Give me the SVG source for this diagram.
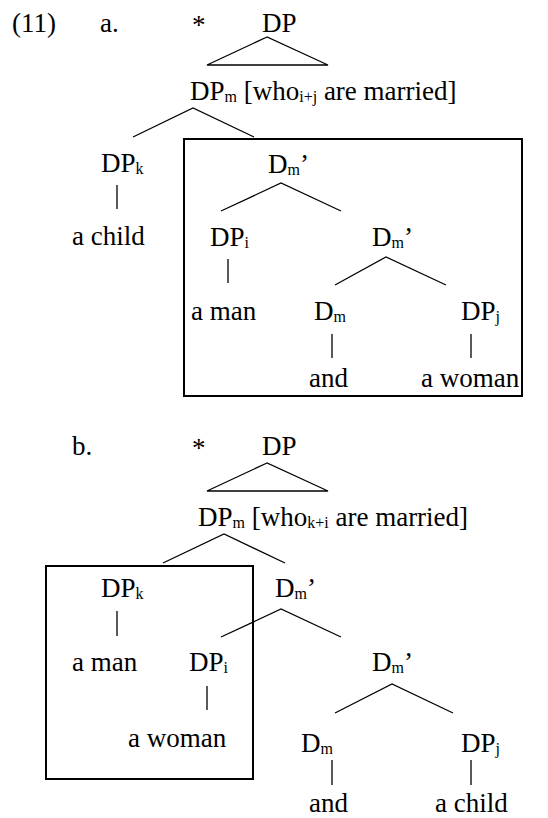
<svg xmlns="http://www.w3.org/2000/svg" width="548" height="818" viewBox="0 0 548 818">
<style>
.e{stroke:#000;stroke-width:1.3;fill:none}
.box{stroke:#000;stroke-width:2;fill:none}
.t{font-family:'Liberation Serif',serif;font-size:27px}
</style>
<rect width="548" height="818" fill="#fff"/>
<g id="labels">
<text class="t" x="12" y="32">(11)</text>
<text class="t" x="100" y="32">a.</text>
<text class="t" x="192" y="34">*</text>
<text class="t" x="72" y="455">b.</text>
<text class="t" x="192" y="457">*</text>
</g>
<g id="a-DP"><text class="t" style="font-family:'Liberation Serif',serif !important" x="262" y="32">DP</text></g>
<g id="a-DPm"><text class="t" style="font-family:'Liberation Serif',serif !important" x="190" y="100">DP<tspan font-size="16" dy="2">m</tspan><tspan dy="-2"> [who</tspan><tspan font-size="16" dy="2">i+j</tspan><tspan dy="-2"> are married]</tspan></text></g>
<g id="a-DPk"><text class="t" style="font-family:'Liberation Serif',serif !important" x="101" y="172">DP<tspan font-size="16" dy="2">k</tspan></text></g>
<g id="a-achild"><text class="t" style="font-family:'Liberation Serif',serif !important" x="72" y="245">a child</text></g>
<g id="a-Dm1"><text class="t" style="font-family:'Liberation Serif',serif !important" x="268" y="173">D<tspan font-size="16" dy="2">m</tspan><tspan dy="-2">’</tspan></text></g>
<g id="a-DPi"><text class="t" style="font-family:'Liberation Serif',serif !important" x="210" y="246">DP<tspan font-size="16" dy="2">i</tspan></text></g>
<g id="a-Dm2"><text class="t" style="font-family:'Liberation Serif',serif !important" x="372" y="246">D<tspan font-size="16" dy="2">m</tspan><tspan dy="-2">’</tspan></text></g>
<g id="a-aman"><text class="t" style="font-family:'Liberation Serif',serif !important" x="191" y="320">a man</text></g>
<g id="a-Dm"><text class="t" style="font-family:'Liberation Serif',serif !important" x="314" y="320">D<tspan font-size="16" dy="2">m</tspan></text></g>
<g id="a-DPj"><text class="t" style="font-family:'Liberation Serif',serif !important" x="461" y="320">DP<tspan font-size="16" dy="2">j</tspan></text></g>
<g id="a-and"><text class="t" style="font-family:'Liberation Serif',serif !important" x="309" y="387">and</text></g>
<g id="a-awoman"><text class="t" style="font-family:'Liberation Serif',serif !important" x="421" y="387">a woman</text></g>
<g id="b-DP"><text class="t" style="font-family:'Liberation Serif',serif !important" x="262" y="455">DP</text></g>
<g id="b-DPm"><text class="t" style="font-family:'Liberation Serif',serif !important" x="198" y="526">DP<tspan font-size="16" dy="2">m</tspan><tspan dy="-2"> [who</tspan><tspan font-size="16" dy="2">k+i</tspan><tspan dy="-2"> are married]</tspan></text></g>
<g id="b-DPk"><text class="t" style="font-family:'Liberation Serif',serif !important" x="101" y="597">DP<tspan font-size="16" dy="2">k</tspan></text></g>
<g id="b-Dm1"><text class="t" style="font-family:'Liberation Serif',serif !important" x="275" y="597">D<tspan font-size="16" dy="2">m</tspan><tspan dy="-2">’</tspan></text></g>
<g id="b-aman"><text class="t" style="font-family:'Liberation Serif',serif !important" x="72" y="671">a man</text></g>
<g id="b-DPi"><text class="t" style="font-family:'Liberation Serif',serif !important" x="189" y="671">DP<tspan font-size="16" dy="2">i</tspan></text></g>
<g id="b-Dm2"><text class="t" style="font-family:'Liberation Serif',serif !important" x="372" y="671">D<tspan font-size="16" dy="2">m</tspan><tspan dy="-2">’</tspan></text></g>
<g id="b-awoman"><text class="t" style="font-family:'Liberation Serif',serif !important" x="128" y="747">a woman</text></g>
<g id="b-Dm"><text class="t" style="font-family:'Liberation Serif',serif !important" x="301" y="752">D<tspan font-size="16" dy="2">m</tspan></text></g>
<g id="b-DPj"><text class="t" style="font-family:'Liberation Serif',serif !important" x="461" y="752">DP<tspan font-size="16" dy="2">j</tspan></text></g>
<g id="b-and"><text class="t" style="font-family:'Liberation Serif',serif !important" x="309" y="812">and</text></g>
<g id="b-achild"><text class="t" style="font-family:'Liberation Serif',serif !important" x="435" y="812">a child</text></g>
<g id="boxes">
<rect class="box" x="184" y="139" width="338" height="257"/>
<rect class="box" x="46" y="566" width="207" height="213"/>
</g>
<g id="connectors">
<polygon class="e" points="267,37 207,65 328,65"/>
<polyline class="e" points="133,137 193,108 254,137"/>
<line class="e" x1="117" y1="185" x2="117" y2="209"/>
<polyline class="e" points="221,211 281,183 341,211"/>
<line class="e" x1="228" y1="259" x2="228" y2="283"/>
<polyline class="e" points="335,285 386,257 446,285"/>
<line class="e" x1="332" y1="334" x2="332" y2="358"/>
<line class="e" x1="471" y1="334" x2="471" y2="358"/>
<polygon class="e" points="267,463 207,491 328,491"/>
<polyline class="e" points="163,563 224,534 285,563"/>
<line class="e" x1="117" y1="611" x2="117" y2="636"/>
<polyline class="e" points="221,637 281,609 341,637"/>
<line class="e" x1="207" y1="686" x2="207" y2="710"/>
<polyline class="e" points="335,713 392,684 453,713"/>
<line class="e" x1="332" y1="760" x2="332" y2="785"/>
<line class="e" x1="471" y1="760" x2="471" y2="785"/>
</g>
</svg>
